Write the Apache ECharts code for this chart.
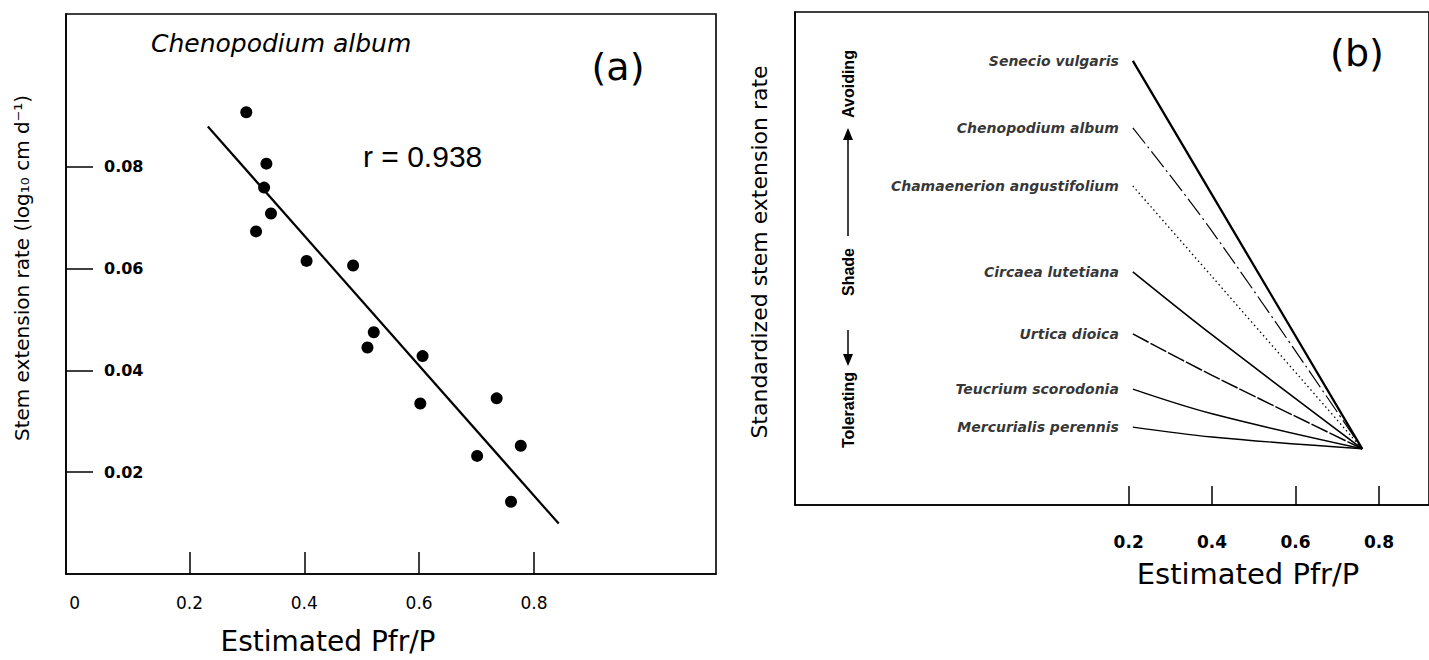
<!DOCTYPE html>
<html>
<head>
<meta charset="utf-8">
<script src="https://cdn.jsdelivr.net/npm/echarts@6/dist/echarts.min.js"></script>
<style>
html,body{margin:0;padding:0;background:#fff;}
#chart{width:1429px;height:660px;}
</style>
</head>
<body>
<div id="chart"></div>
<script>
// ---------- Panel (a): Chenopodium album ----------
const pfrA = [0.299, 0.334, 0.330, 0.342, 0.316, 0.404, 0.485, 0.521, 0.510, 0.606, 0.602, 0.735, 0.777, 0.701, 0.760];
const rateA = [0.0907, 0.0806, 0.0759, 0.0708, 0.0673, 0.0615, 0.0606, 0.0475, 0.0445, 0.0428, 0.0335, 0.0345, 0.0252, 0.0232, 0.0142];
const fitX = [0.232, 0.843];
const fitY = [0.0879, 0.0099];
const xTicksA = [0.2, 0.4, 0.6, 0.8];
const xLabelsA = [0, 0.2, 0.4, 0.6, 0.8];
const yTicksA = [0.02, 0.04, 0.06, 0.08];

// ---------- Panel (b): standardized responses ----------
const species = ['Senecio vulgaris', 'Chenopodium album', 'Chamaenerion angustifolium', 'Circaea lutetiana', 'Urtica dioica', 'Teucrium scorodonia', 'Mercurialis perennis'];
const pfrB = [0.21, 0.40, 0.76];
const senecio = [90.1, 62.9, 11.4];
const chenopodium = [76.5, 55.5, 11.4];
const chamaenerion = [64.7, 46.3, 11.4];
const circaea = [47.3, 34.5, 11.4];
const urtica = [34.7, 26.3, 11.4];
const teucrium = [23.5, 18.5, 11.4];
const mercurialis = [15.8, 13.8, 11.4];
const xTicksB = [0.2, 0.4, 0.6, 0.8];

const seriesB = [senecio, chenopodium, chamaenerion, circaea, urtica, teucrium, mercurialis];
const lineStylesB = [
  {width: 2.3, type: 'solid'},
  {width: 1.2, type: [20, 4, 2, 4]},
  {width: 1.3, type: [1.5, 3]},
  {width: 1.6, type: 'solid'},
  {width: 1.5, type: [18, 2]},
  {width: 1.5, type: 'solid'},
  {width: 1.4, type: 'solid'}
];

const chart = echarts.init(document.getElementById('chart'), null, {renderer: 'svg'});
const fmt = v => (v === 0 ? '0' : String(v));
const black = '#000';
const baseFont = 'DejaVu Sans';

const option = {
  backgroundColor: '#fff',
  animation: false,
  grid: [
    {left: 66, top: 14, width: 650, height: 560, show: true, borderColor: black, borderWidth: 1.6, backgroundColor: 'transparent'},
    {left: 795, top: 12, width: 644, height: 493, show: true, borderColor: black, borderWidth: 1.6, backgroundColor: 'transparent'}
  ],
  xAxis: [
    {
      gridIndex: 0, type: 'value', min: -0.015, max: 1.117,
      axisLine: {show: true, onZero: false, lineStyle: {color: black, width: 1.6}},
      axisTick: {show: true, inside: true, length: 22, customValues: xTicksA, lineStyle: {color: black, width: 1.5}},
      axisLabel: {show: true, customValues: xLabelsA, formatter: fmt, margin: 20, color: black, fontSize: 17, fontFamily: baseFont},
      splitLine: {show: false}
    },
    {
      gridIndex: 1, type: 'value', min: -0.6, max: 0.92,
      axisLine: {show: true, onZero: false, lineStyle: {color: black, width: 1.6}},
      axisTick: {show: true, inside: true, length: 19, customValues: xTicksB, lineStyle: {color: black, width: 1.5}},
      axisLabel: {show: true, customValues: xTicksB, formatter: fmt, margin: 28, color: black, fontSize: 17, fontWeight: 'bold', fontFamily: baseFont},
      splitLine: {show: false}
    }
  ],
  yAxis: [
    {
      gridIndex: 0, type: 'value', min: 0, max: 0.11,
      axisLine: {show: true, onZero: false, lineStyle: {color: black, width: 1.6}},
      axisTick: {show: true, inside: true, length: 27, customValues: yTicksA, lineStyle: {color: black, width: 1.5}},
      axisLabel: {show: true, inside: true, customValues: yTicksA, formatter: fmt, margin: 38, color: black, fontSize: 16, fontWeight: 'bold', fontFamily: baseFont},
      splitLine: {show: false}
    },
    {
      gridIndex: 1, type: 'value', min: 0, max: 100,
      axisLine: {show: true, onZero: false, lineStyle: {color: black, width: 1.6}},
      axisTick: {show: false}, axisLabel: {show: false}, splitLine: {show: false}
    }
  ],
  series: [
    {
      type: 'scatter', xAxisIndex: 0, yAxisIndex: 0, symbolSize: 12,
      itemStyle: {color: black, opacity: 1},
      data: pfrA.map((x, i) => [x, rateA[i]])
    },
    {
      type: 'line', xAxisIndex: 0, yAxisIndex: 0, symbol: 'none',
      lineStyle: {color: black, width: 2.2},
      data: fitX.map((x, i) => [x, fitY[i]])
    },
    ...seriesB.map((ys, k) => ({
      type: 'line', xAxisIndex: 1, yAxisIndex: 1, symbol: 'none', smooth: 0.35,
      name: species[k],
      lineStyle: Object.assign({color: black}, lineStylesB[k]),
      data: pfrB.map((x, i) => [x, ys[i]])
    })),
    {
      type: 'scatter', xAxisIndex: 1, yAxisIndex: 1, symbolSize: 0,
      itemStyle: {color: 'transparent'},
      label: {
        show: true, position: 'left', distance: 14,
        formatter: p => species[p.dataIndex],
        color: black, fontSize: 14, fontStyle: 'italic', fontWeight: 'bold', fontFamily: baseFont
      },
      data: seriesB.map(ys => [pfrB[0], ys[0]])
    }
  ],
  graphic: [
    // panel (a) texts
    {type: 'text', x: 151, y: 43, style: {text: 'Chenopodium album', font: 'italic 25px "DejaVu Sans"', fill: black, textVerticalAlign: 'middle'}},
    {type: 'text', x: 618, y: 67, style: {text: '(a)', font: '38px "DejaVu Sans"', fill: black, textAlign: 'center', textVerticalAlign: 'middle'}},
    {type: 'text', x: 363, y: 156, style: {text: 'r = 0.938', font: '30px "Liberation Sans"', fill: black, textVerticalAlign: 'middle'}},
    {type: 'text', x: 22, y: 268, rotation: Math.PI / 2, style: {text: 'Stem extension rate (log\u2081\u2080 cm d\u207B\u00B9)', font: '20px "DejaVu Sans"', fill: black, textAlign: 'center', textVerticalAlign: 'middle'}},
    {type: 'text', x: 328, y: 641, style: {text: 'Estimated Pfr/P', font: '28px "DejaVu Sans"', fill: black, textAlign: 'center', textVerticalAlign: 'middle'}},
    // panel (b) texts
    {type: 'text', x: 1357, y: 53, style: {text: '(b)', font: '38px "DejaVu Sans"', fill: black, textAlign: 'center', textVerticalAlign: 'middle'}},
    {type: 'text', x: 759, y: 252, rotation: Math.PI / 2, style: {text: 'Standardized stem extension rate', font: '22px "DejaVu Sans"', fill: black, textAlign: 'center', textVerticalAlign: 'middle'}},
    {type: 'text', x: 1248, y: 574, style: {text: 'Estimated Pfr/P', font: '29px "DejaVu Sans"', fill: black, textAlign: 'center', textVerticalAlign: 'middle'}},
    {type: 'text', x: 848, y: 84, rotation: Math.PI / 2, style: {text: 'Avoiding', font: 'bold 16px "Liberation Sans"', fill: black, textAlign: 'center', textVerticalAlign: 'middle'}},
    {type: 'text', x: 848, y: 272, rotation: Math.PI / 2, style: {text: 'Shade', font: 'bold 16px "Liberation Sans"', fill: black, textAlign: 'center', textVerticalAlign: 'middle'}},
    {type: 'text', x: 848, y: 410, rotation: Math.PI / 2, style: {text: 'Tolerating', font: 'bold 16px "Liberation Sans"', fill: black, textAlign: 'center', textVerticalAlign: 'middle'}},
    {type: 'line', shape: {x1: 848, y1: 236, x2: 848, y2: 134}, style: {stroke: black, lineWidth: 1.5}},
    {type: 'polygon', shape: {points: [[843, 140], [848, 128], [853, 140]]}, style: {fill: black}},
    {type: 'line', shape: {x1: 848, y1: 330, x2: 848, y2: 360}, style: {stroke: black, lineWidth: 1.5}},
    {type: 'polygon', shape: {points: [[843, 354], [848, 366], [853, 354]]}, style: {fill: black}}
  ]
};
chart.setOption(option);
</script>
</body>
</html>
